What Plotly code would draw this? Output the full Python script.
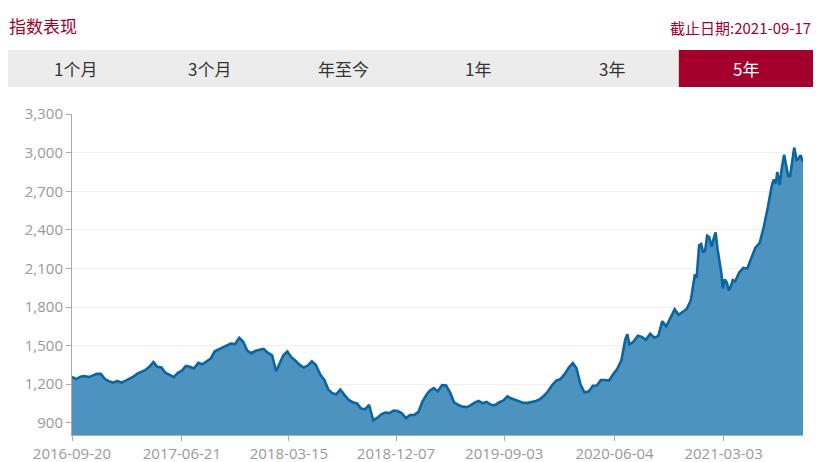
import plotly.graph_objects as go

# ---- data ----
dates = [
    "2016-09-20",
    "2016-10-01", "2016-10-11", "2016-10-21",
    "2016-11-01", "2016-11-11", "2016-11-21",
    "2016-12-01", "2016-12-11", "2016-12-21",
    "2017-01-01", "2017-01-11", "2017-01-21",
    "2017-02-01", "2017-02-11", "2017-02-21",
    "2017-03-01", "2017-03-11", "2017-03-21",
    "2017-04-01", "2017-04-11", "2017-04-21",
    "2017-05-01", "2017-05-11", "2017-05-21",
    "2017-06-01", "2017-06-11", "2017-06-21",
    "2017-07-01", "2017-07-11", "2017-07-21",
    "2017-08-01", "2017-08-11", "2017-08-21",
    "2017-09-01", "2017-09-11", "2017-09-21",
    "2017-10-01", "2017-10-11", "2017-10-21",
    "2017-11-01", "2017-11-11", "2017-11-21",
    "2017-12-01", "2017-12-11", "2017-12-21",
    "2018-01-01", "2018-01-11", "2018-01-21",
    "2018-02-01", "2018-02-11", "2018-02-21",
    "2018-03-01", "2018-03-11", "2018-03-21",
    "2018-04-01", "2018-04-11", "2018-04-21",
    "2018-05-01", "2018-05-11", "2018-05-21",
    "2018-06-01", "2018-06-11", "2018-06-21",
    "2018-07-01", "2018-07-11", "2018-07-21",
    "2018-08-01", "2018-08-11", "2018-08-21",
    "2018-09-01", "2018-09-11", "2018-09-21",
    "2018-10-01", "2018-10-11", "2018-10-21",
    "2018-11-01", "2018-11-11", "2018-11-21",
    "2018-12-01", "2018-12-11", "2018-12-21",
    "2019-01-01", "2019-01-11", "2019-01-21",
    "2019-02-01", "2019-02-11", "2019-02-21",
    "2019-03-01", "2019-03-11", "2019-03-21",
    "2019-04-01", "2019-04-11", "2019-04-21",
    "2019-05-01", "2019-05-11", "2019-05-21",
    "2019-06-01", "2019-06-11", "2019-06-21",
    "2019-07-01", "2019-07-11", "2019-07-21",
    "2019-08-01", "2019-08-11", "2019-08-21",
    "2019-09-01", "2019-09-11", "2019-09-21",
    "2019-10-01", "2019-10-11", "2019-10-21",
    "2019-11-01", "2019-11-11", "2019-11-21",
    "2019-12-01", "2019-12-11", "2019-12-21",
    "2020-01-01", "2020-01-11", "2020-01-21",
    "2020-02-01", "2020-02-11", "2020-02-21",
    "2020-03-01", "2020-03-11", "2020-03-21",
    "2020-04-01", "2020-04-11", "2020-04-21",
    "2020-05-01", "2020-05-11", "2020-05-21",
    "2020-06-01", "2020-06-11", "2020-06-21",
    "2020-07-01", "2020-07-06", "2020-07-11", "2020-07-21",
    "2020-08-01", "2020-08-11", "2020-08-21",
    "2020-09-01", "2020-09-11", "2020-09-21",
    "2020-10-01", "2020-10-11", "2020-10-21",
    "2020-11-01", "2020-11-11", "2020-11-21",
    "2020-12-01", "2020-12-11", "2020-12-21", "2020-12-26",
    "2021-01-01", "2021-01-06", "2021-01-11", "2021-01-16", "2021-01-21", "2021-01-26",
    "2021-02-01", "2021-02-06", "2021-02-11", "2021-02-16", "2021-02-21", "2021-02-26",
    "2021-03-01", "2021-03-06", "2021-03-11", "2021-03-16", "2021-03-21", "2021-03-26",
    "2021-04-01", "2021-04-11", "2021-04-21",
    "2021-05-01", "2021-05-11", "2021-05-21",
    "2021-06-01", "2021-06-11", "2021-06-21",
    "2021-07-01", "2021-07-06", "2021-07-11", "2021-07-15", "2021-07-21", "2021-07-26",
    "2021-08-01", "2021-08-06", "2021-08-11", "2021-08-16", "2021-08-21", "2021-08-26",
    "2021-09-01", "2021-09-06", "2021-09-11", "2021-09-17",
]

values = [
    1257,
    1240, 1258, 1263,
    1255, 1267, 1280,
    1280, 1240, 1224,
    1212, 1225, 1212,
    1228, 1243, 1260,
    1280, 1295, 1309,
    1335, 1372, 1335,
    1330, 1289, 1270,
    1255, 1288, 1305,
    1342, 1335, 1322,
    1366, 1355, 1375,
    1400, 1456, 1470,
    1483, 1496, 1516,
    1512, 1560, 1530,
    1462, 1441, 1458,
    1468, 1475, 1445,
    1425, 1300, 1375,
    1425, 1455, 1410,
    1380, 1350, 1330,
    1345, 1378, 1350,
    1275, 1235, 1160,
    1130, 1122, 1158,
    1115, 1078, 1060,
    1050, 1010, 1005,
    1040, 920, 938,
    968, 979, 975,
    995, 991, 975,
    936, 960, 960,
    985, 1065, 1118,
    1150, 1170, 1145,
    1193, 1190, 1135,
    1058, 1040, 1026,
    1022, 1035, 1057,
    1070, 1052, 1063,
    1040, 1037, 1058,
    1073, 1105, 1088,
    1078, 1065, 1055,
    1055, 1060, 1070,
    1084, 1110, 1145,
    1195, 1228, 1240,
    1280, 1330, 1365,
    1325, 1200, 1135,
    1145, 1188, 1190,
    1233, 1233, 1228,
    1280, 1320, 1385,
    1550, 1589, 1510, 1530,
    1577, 1568, 1545,
    1592, 1562, 1575,
    1690, 1650, 1710,
    1782, 1740, 1762,
    1785, 1850, 2045, 2040,
    2280, 2290, 2225, 2240, 2355, 2345,
    2270, 2330, 2380, 2250, 2160, 2050,
    1945, 2015, 1990, 1930, 1960, 2010,
    2000, 2068, 2105,
    2100, 2180, 2260,
    2300, 2420, 2570,
    2740, 2790, 2760, 2851, 2750, 2880,
    2985, 2900, 2820, 2820, 2930, 3040,
    2945, 2955, 2980, 2930,
]

tick_dates = ["2016-09-20", "2017-06-21", "2018-03-15", "2018-12-07",
              "2019-09-03", "2020-06-04", "2021-03-03"]

tabs = ["1个月", "3个月", "年至今", "1年", "3年", "5年"]
active_tab = "5年"

title_text = "指数表现"
asof_text = "截止日期:2021-09-17"

# ---- style ----
RED = "#a3002b"
LINE = "#0b65a3"
FILL = "rgba(62,138,186,0.92)"
W, H = 831, 462
L, R, T, B = 72, 28, 114, 27
PW, PH = W - L - R, H - T - B


def px(xp):
    return (xp - L) / PW


def py(yp):
    return (H - B - yp) / PH


fig = go.Figure()
fig.add_trace(go.Scatter(
    x=dates, y=values, mode="lines",
    line=dict(color=LINE, width=2.6),
    fill="tozeroy", fillcolor=FILL,
    hoverinfo="x+y", showlegend=False,
))

shapes = []
annotations = []

# tab bar
bar_x0, bar_x1, bar_y0, bar_y1 = 8, 813, 50, 87
shapes.append(dict(type="rect", xref="paper", yref="paper",
                   x0=px(bar_x0), x1=px(bar_x1), y0=py(bar_y1), y1=py(bar_y0),
                   fillcolor="#ececec", line=dict(width=0), layer="below"))
tw = (bar_x1 - bar_x0) / len(tabs)
for i, t in enumerate(tabs):
    x0 = bar_x0 + i * tw
    active = (t == active_tab)
    if active:
        shapes.append(dict(type="rect", xref="paper", yref="paper",
                           x0=px(x0), x1=px(x0 + tw), y0=py(bar_y1), y1=py(bar_y0),
                           fillcolor=RED, line=dict(width=0), layer="below"))
    annotations.append(dict(
        xref="paper", yref="paper", x=px(x0 + tw / 2), y=py((bar_y0 + bar_y1) / 2),
        text=t, showarrow=False, xanchor="center", yanchor="middle",
        font=dict(size=17, color="#ffffff" if active else "#333333",
                  family="Noto Sans CJK SC, Open Sans, sans-serif")))

annotations.append(dict(
    xref="paper", yref="paper", x=px(7), y=py(25), text=title_text,
    showarrow=False, xanchor="left", yanchor="middle",
    font=dict(size=17, color=RED, family="Noto Sans CJK SC, sans-serif")))
annotations.append(dict(
    xref="paper", yref="paper", x=px(813), y=py(27), text=asof_text,
    showarrow=False, xanchor="right", yanchor="middle",
    font=dict(size=15, color=RED, family="Noto Sans CJK SC, Liberation Sans, sans-serif")))

fig.update_layout(
    width=W, height=H,
    margin=dict(l=L, r=R, t=T, b=B, pad=0, autoexpand=False),
    paper_bgcolor="white", plot_bgcolor="white",
    font=dict(family="Open Sans, Noto Sans CJK SC, sans-serif", color="#999999"),
    shapes=shapes, annotations=annotations,
    xaxis=dict(
        type="date", range=["2016-09-20", "2021-09-17"],
        tickvals=tick_dates, ticktext=tick_dates,
        showgrid=False, zeroline=False, automargin=False,
        showline=True, linecolor="#aaaaaa", linewidth=1,
        ticks="outside", ticklen=5, tickcolor="#aaaaaa",
        tickfont=dict(size=15, color="#999999"),
    ),
    yaxis=dict(
        range=[805, 3301], tick0=0, dtick=300, tickformat=",d",
        showgrid=True, gridcolor="#f0f0f0", gridwidth=1, zeroline=False,
        automargin=False,
        showline=True, linecolor="#aaaaaa", linewidth=1,
        ticks="outside", ticklen=5, tickcolor="#aaaaaa",
        tickfont=dict(size=15, color="#999999"),
    ),
)

fig.write_html(
    "out.html",
    config={"displayModeBar": False},
    post_script="document.body.style.margin='0';document.body.style.overflow='hidden';",
)
